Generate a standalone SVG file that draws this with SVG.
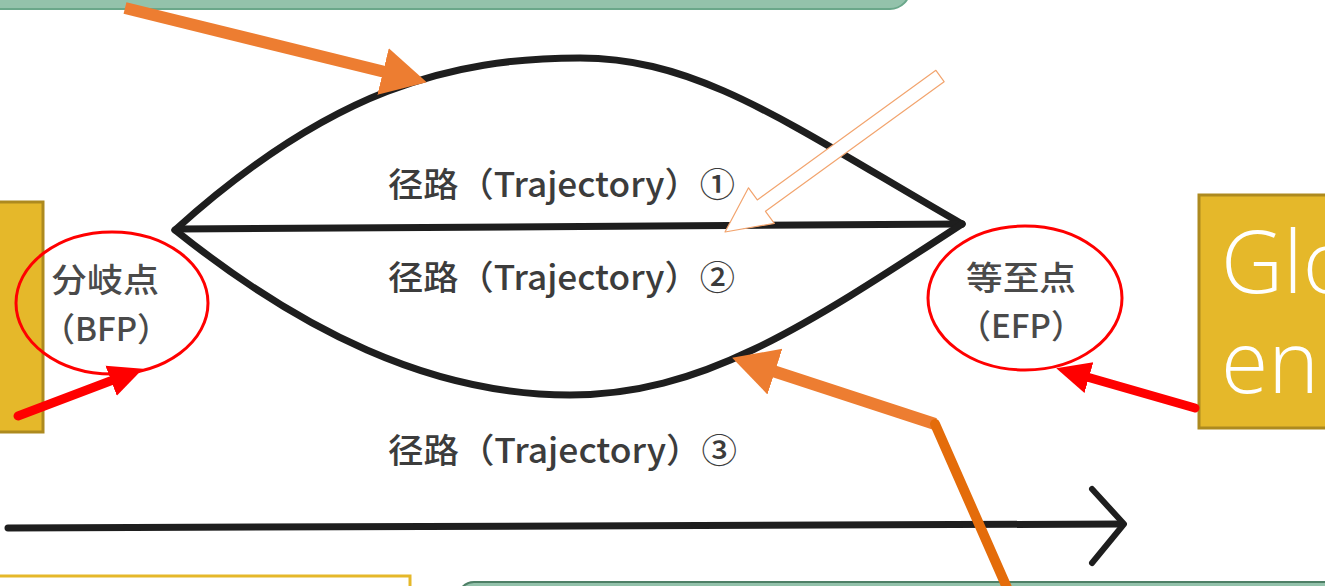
<svg xmlns="http://www.w3.org/2000/svg" width="1325" height="586" viewBox="0 0 1325 586">
  <defs>
    <style>
      .curve { fill: none; stroke: #1e1e1e; stroke-width: 7; stroke-linecap: round; stroke-linejoin: round; }
      .traj { font-family: "Noto Sans CJK SC", "Noto Sans", sans-serif; font-size: 34px; font-weight: 500; fill: #3c3c3c; }
      .pt { font-family: "Noto Sans CJK SC", "Noto Sans", sans-serif; font-size: 33px; font-weight: 500; fill: #4a4a4a; text-anchor: middle; }
      .gold { fill: #e5b82a; stroke: #ad8a1f; stroke-width: 3; }
      .red { fill: none; stroke: #ff0000; stroke-width: 9; stroke-linecap: round; }
      .redE { fill: none; stroke: #ff0000; stroke-width: 3; }
      .orange { fill: none; stroke: #ed7d31; stroke-width: 12; }
      .big { font-family: "Open Sans", "Lato", sans-serif; font-weight: 350; font-size: 86px; fill: #ffffff; }
    </style>
    <marker id="headRed" viewBox="0 -20 40 40" refX="2" refY="0" markerWidth="40" markerHeight="40" markerUnits="userSpaceOnUse" orient="auto">
      <path d="M0,-16 L34,0 L0,16 z" fill="#ff0000"/>
    </marker>
    <marker id="headOrange" viewBox="0 -26 50 52" refX="2" refY="0" markerWidth="50" markerHeight="52" markerUnits="userSpaceOnUse" orient="auto">
      <path d="M0,-24 L45,0 L0,24 z" fill="#ed7d31"/>
    </marker>
  </defs>

  <rect width="1325" height="586" fill="#ffffff"/>

  <!-- top green box -->
  <g id="top-box">
    <rect x="-20" y="-40" width="930" height="49" rx="20" fill="#93c2ab" stroke="#6aa78a" stroke-width="2"/>
  </g>

  <!-- bottom boxes -->
  <g id="bottom-left-box">
    <rect x="-5" y="576" width="415" height="30" fill="#ffffff" stroke="#e5b82a" stroke-width="3"/>
  </g>
  <g id="bottom-right-box">
    <rect x="458" y="582" width="900" height="40" rx="16" fill="#93c2ab" stroke="#4e7f66" stroke-width="2"/>
  </g>

  <!-- side gold boxes -->
  <g id="left-box">
    <rect class="gold" x="-6" y="202" width="49" height="230"/>
  </g>
  <g id="right-box">
    <rect class="gold" x="1199" y="195" width="140" height="233"/>
    <text class="big" x="1221" y="293">Glo</text>
    <text class="big" x="1221" y="393">en</text>
  </g>

  <!-- trajectory diagram -->
  <g id="trajectories">
    <path class="curve" d="M175,230 C330,90 450,58 580,58 C700,58 790,125 962,224"/>
    <path class="curve" d="M178,229 L962,224"/>
    <path class="curve" d="M175,230 C300,330 430,395 570,395 C700,395 800,330 962,224"/>
    <path class="curve" d="M8,528 L1122,524"/>
    <path class="curve" d="M1092,489 L1124,524 L1092,563" style="stroke-width:6"/>
  </g>

  <g id="labels">
    <text class="traj" x="388" y="197" textLength="347" lengthAdjust="spacingAndGlyphs">径路（Trajectory）①</text>
    <text class="traj" x="388" y="290" textLength="347" lengthAdjust="spacingAndGlyphs">径路（Trajectory）②</text>
    <text class="traj" x="388" y="463" textLength="349" lengthAdjust="spacingAndGlyphs">径路（Trajectory）③</text>
  </g>

  <g id="bfp">
    <text class="pt" x="105" y="292" textLength="108" lengthAdjust="spacingAndGlyphs">分岐点</text>
    <text class="pt" x="106" y="341">（BFP）</text>
    <ellipse class="redE" cx="112" cy="303" rx="96" ry="71"/>
  </g>
  <g id="efp">
    <text class="pt" x="1021" y="290" textLength="110" lengthAdjust="spacingAndGlyphs">等至点</text>
    <text class="pt" x="1021" y="338">（EFP）</text>
    <ellipse class="redE" cx="1025" cy="298" rx="97" ry="72"/>
  </g>

  <!-- connectors -->
  <g id="connectors">
    <line class="orange" x1="125" y1="8" x2="385" y2="72" marker-end="url(#headOrange)"/>
    <line class="orange" x1="935" y1="424" x2="773" y2="371" marker-end="url(#headOrange)"/>
    <line x1="935" y1="424" x2="1008" y2="590" stroke="#e46c0a" stroke-width="10" stroke-linecap="round"/>
    <polygon points="935.9,70.3 944.1,81.7 765.5,211.3 774.3,223.4 725,232 748.5,187.8 757.3,199.9" fill="#ffffff" stroke="#f2a46e" stroke-width="1.2" stroke-linejoin="round"/>
    <line class="red" x1="18" y1="416" x2="113" y2="380" marker-end="url(#headRed)"/>
    <line class="red" x1="1195" y1="408" x2="1087" y2="377" marker-end="url(#headRed)"/>
  </g>
</svg>
